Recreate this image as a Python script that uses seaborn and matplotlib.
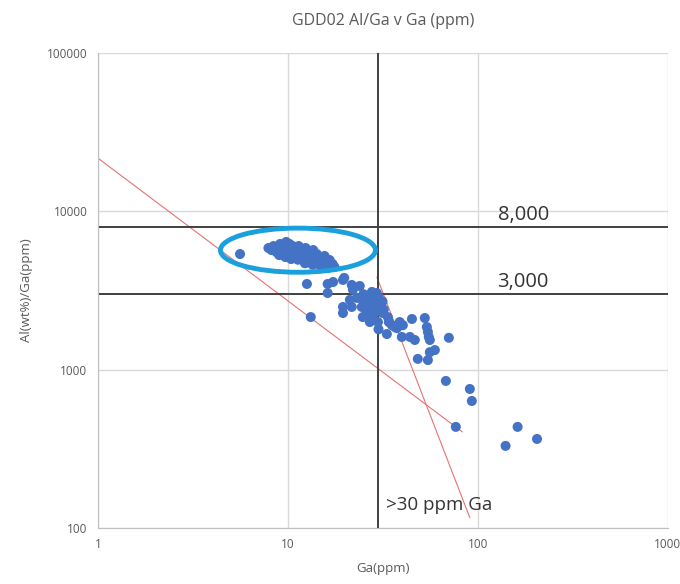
import numpy as np
import pandas as pd
import matplotlib
matplotlib.use("Agg")
import matplotlib.pyplot as plt
from matplotlib.patches import Ellipse
import seaborn as sns

# Ga (ppm) and Al(wt%)/Ga(ppm)
ga = [5.6, 7.9, 8.2, 8.4, 8.7, 8.9, 9.1, 9.3, 9.5, 9.6, 9.8, 10.0, 10.0, 10.2, 10.3,
      10.5, 10.6, 10.8, 11.0, 11.0, 11.2, 11.4, 11.6, 11.8, 12.0, 12.1, 12.4, 12.6,
      12.8, 13.0, 13.3, 13.6, 13.8, 14.2, 14.5, 14.8, 15.2, 15.6, 16.0, 16.6, 17.2,
      9.0, 9.7, 10.4, 11.3, 12.3, 13.5, 14.0, 15.0, 16.3, 17.6,
      12.6, 13.2, 16.2, 17.3, 19.5, 16.2, 21.7, 23.9, 27.7, 29.4, 19.8, 21.2, 23.1,
      24.8, 19.5, 19.5, 21.7, 24.5, 27.0, 26.0, 28.0, 30.5, 31.6, 33.6, 35.3, 29.8,
      27.0, 24.8, 37.5, 33.2, 36.6, 38.8, 40.3, 45.0, 39.8, 43.9, 46.6, 52.6, 53.9,
      54.6, 55.2, 55.9, 70.4, 59.4, 55.9, 48.3, 54.6, 67.9, 90.8, 93.0, 76.6, 162,
      140, 205, 29.0, 31.0, 30.0, 28.0, 32.0, 26.0, 25.0, 22.0, 34.0, 30.0,
      28.5, 29.5, 27.5, 31.5]
ratio = [5380, 5870, 5700, 6040, 5540, 5870, 6230, 5380, 5700, 6040, 6410, 5540, 5870,
         6230, 5230, 5700, 6040, 5380, 5870, 5080, 5540, 6040, 5230, 5700, 4930, 5380,
         5870, 5080, 5540, 4790, 5230, 5700, 4930, 5380, 4650, 5080, 4790, 5230, 4520,
         4930, 4650,
         5300, 5150, 5000, 4950, 4700, 4600, 5100, 4450, 4400, 4450,
         3480, 2150, 3480, 3580, 3690, 3050, 3430, 3380, 3100, 3050, 3800, 2760, 2840,
         2760, 2490, 2280, 2490, 2490, 2640, 2280, 2150, 2490, 2280, 2150, 1910, 2000,
         2000, 2150, 1830, 1680, 1860, 2000, 1910, 2090, 1610, 1610, 1540, 2120, 1860,
         1730, 1610, 1540, 1590, 1330, 1290, 1170, 1150, 849, 755, 634, 435, 435,
         330, 365, 2760, 2640, 2900, 2400, 2400, 2600, 3000, 3200, 2000, 1800,
         2550, 2350, 2850, 2700]

# guide lines
red1_x = [1, 83]
red1_y = [21700, 404]
red2_x = [29.4, 90.8]
red2_y = [3850, 116]
limits_y = [8000, 3000]
limit_x = 30

df = pd.DataFrame({"Ga": ga, "AlGa": ratio})

sns.set_style("white")
plt.rcParams["font.family"] = ["Open Sans", "DejaVu Sans"]
grey = "#595959"

fig = plt.figure(figsize=(6.8, 5.84), dpi=100)
ax = fig.add_axes([0.144, 0.096, 0.838, 0.813])

ax.set_xscale("log")
ax.set_yscale("log")
ax.set_xlim(1, 1000)
ax.set_ylim(100, 100000)

ax.grid(True, which="major", color="#d9d9d9", lw=1)
ax.set_axisbelow(True)

ax.plot(red1_x, red1_y, color="#e57373", lw=0.8, zorder=2)
ax.plot(red2_x, red2_y, color="#e57373", lw=0.8, zorder=2)

for v in limits_y:
    ax.axhline(v, color="#404040", lw=1.4, zorder=2)
ax.axvline(limit_x, color="#404040", lw=1.4, zorder=2)

sns.scatterplot(data=df, x="Ga", y="AlGa", ax=ax, color="#4472c4", s=52,
                edgecolor="none", zorder=3, legend=False)

ax.add_patch(Ellipse((0.351, 0.585), 0.272, 0.093, transform=ax.transAxes,
                     fill=False, edgecolor="#1ca0dd", lw=3.5, zorder=4))

ax.text(127, 9480, "8,000", fontsize=14.5, color="#333333", va="center")
ax.text(127, 3580, "3,000", fontsize=14.5, color="#333333", va="center")
ax.text(32.8, 140, ">30 ppm Ga", fontsize=13.5, color="#333333", va="center")

ax.set_xticks([1, 10, 100, 1000])
ax.set_xticklabels(["1", "10", "100", "1000"])
ax.set_yticks([100, 1000, 10000, 100000])
ax.set_yticklabels(["100", "1000", "10000", "100000"])
ax.tick_params(which="major", colors=grey, labelsize=8.5, length=4, color="#bfbfbf")
ax.tick_params(which="minor", length=3, color="#bfbfbf")
ax.tick_params(axis="x", which="minor", labelbottom=False)
ax.tick_params(axis="y", which="minor", labelleft=False)

for s in ["top", "right"]:
    ax.spines[s].set_visible(False)
for s in ["left", "bottom"]:
    ax.spines[s].set_color("#bfbfbf")

ax.set_xlabel("Ga(ppm)", color=grey, fontsize=9.5, labelpad=8)
ax.set_ylabel("Al(wt%)/Ga(ppm)", color=grey, fontsize=9.5, labelpad=10)
ax.set_title("GDD02 Al/Ga v Ga (ppm)", color=grey, fontsize=11.5, pad=20)

fig.savefig("out.png", dpi=100)
